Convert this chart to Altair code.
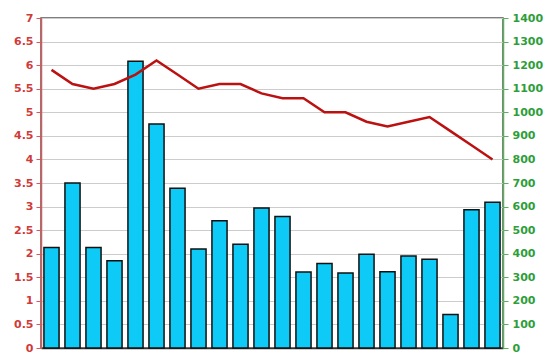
import altair as alt
import pandas as pd

categories = [str(i) for i in range(1, 23)]
bar_values = [2.13, 3.5, 2.13, 1.85, 6.08, 4.75, 3.39, 2.1, 2.7, 2.2, 2.97, 2.79,
              1.61, 1.79, 1.59, 1.99, 1.62, 1.95, 1.88, 0.71, 2.93, 3.09]
line_values = [1180, 1120, 1100, 1120, 1160, 1220, 1160, 1100, 1120, 1120, 1080, 1060,
               1060, 1000, 1000, 960, 940, 960, 980, 920, 860, 800]
left_ticks = [0, 0.5, 1, 1.5, 2, 2.5, 3, 3.5, 4, 4.5, 5, 5.5, 6, 6.5, 7]
right_ticks = list(range(0, 1500, 100))

df = pd.DataFrame({"cat": categories, "bar": bar_values, "line": line_values})

x = alt.X(
    "cat:N",
    sort=categories,
    axis=alt.Axis(title=None, labels=False, ticks=False, domainColor="#333333", domainWidth=1.5, grid=False),
    scale=alt.Scale(paddingInner=0.28, paddingOuter=0.14),
)

bars = alt.Chart(df).mark_bar(color="#0DCBF6", stroke="#111111", strokeWidth=1.5).encode(
    x=x,
    y=alt.Y(
        "bar:Q",
        scale=alt.Scale(domain=[0, 7], nice=False),
        axis=alt.Axis(
            orient="left", title=None, values=left_ticks, format="~g", grid=True, gridColor="#CCCCCC",
            labelColor="#D03A3A", domainColor="#D55A5A", tickColor="#D55A5A",
            tickSize=5, labelPadding=3, labelFont="DejaVu Sans", labelFontSize=11,
            labelFontWeight=600, domainWidth=1.5,
        ),
    ),
)

line = alt.Chart(df).mark_line(color="#BB1111", strokeWidth=2.5).encode(
    x=x,
    y=alt.Y(
        "line:Q",
        scale=alt.Scale(domain=[0, 1400], nice=False),
        axis=alt.Axis(
            orient="right", title=None, values=right_ticks, format="d", grid=False,
            labelColor="#2E9E3A", domainColor="#5BB05B", tickColor="#5BB05B",
            tickSize=5, labelPadding=4, labelFont="DejaVu Sans", labelFontSize=11,
            labelFontWeight=600, domainWidth=1.5,
        ),
    ),
)

chart = (
    alt.layer(bars, line)
    .resolve_scale(y="independent")
    .properties(
        width=462,
        height=330,
        autosize=alt.AutoSizeParams(type="none"),
        padding={"left": 41, "top": 18, "right": 47, "bottom": 16},
        background="white",
    )
    .configure_view(stroke="#555555", strokeWidth=1.5)
)

chart.save("out.html", embed_options={"renderer": "svg", "actions": False})
